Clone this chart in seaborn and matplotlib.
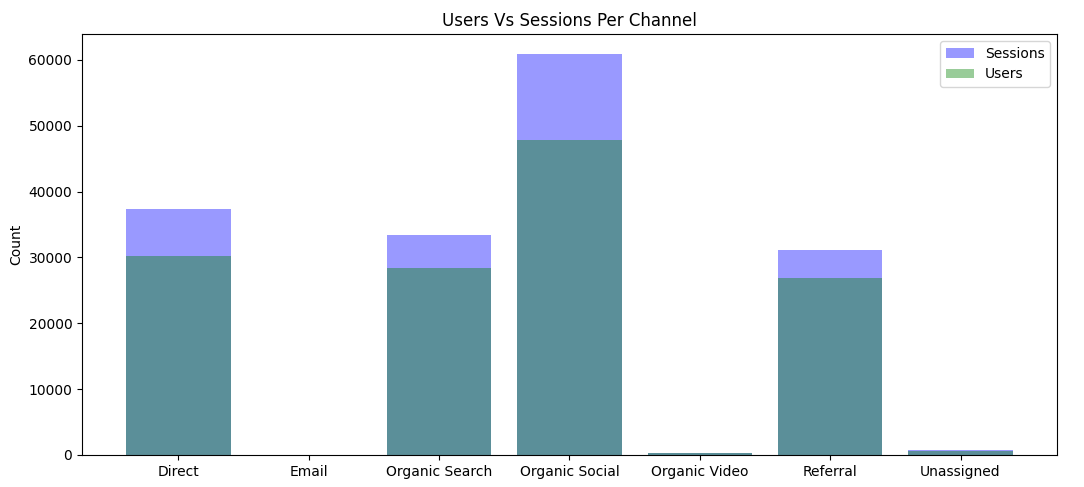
import pandas as pd
import numpy as np
import seaborn as sns
from matplotlib import pyplot as plt

channels = ['Direct', 'Email', 'Organic Search', 'Organic Social',
            'Organic Video', 'Referral', 'Unassigned']
sessions = [37350, 40, 33400, 60900, 330, 31100, 700]
users = [30150, 30, 28400, 47800, 260, 26950, 580]

df = pd.DataFrame({'channel': channels, 'sessions': sessions, 'users': users})

fig = plt.figure(figsize=(10.84, 4.87), dpi=100)
ax = fig.add_axes([82 / 1084, 32 / 487, (1057 - 82) / 1084, (455 - 34) / 487])

sns.barplot(data=df, x='channel', y='sessions', color='blue', alpha=0.4,
            saturation=1, label='Sessions', ax=ax)
sns.barplot(data=df, x='channel', y='users', color='green', alpha=0.4,
            saturation=1, label='Users', ax=ax)

# matplotlib style margins
ax.set_xlim(-0.74, len(channels) - 1 + 0.74)
ax.set_title('Users Vs Sessions Per Channel')
ax.set_xlabel('')
ax.set_ylabel('Count')
ax.legend(loc='upper right')

plt.savefig('out.png', dpi=100)
